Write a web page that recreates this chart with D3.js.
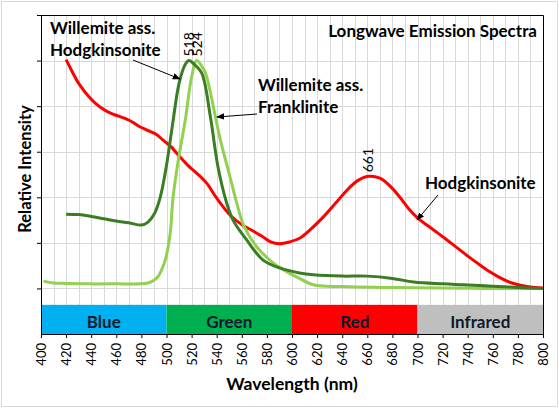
<!DOCTYPE html>
<html>
<head>
<meta charset="utf-8">
<script src="https://cdn.jsdelivr.net/npm/d3@7"></script>
<style>
  body { margin: 0; background: #fff; }
  svg { display: block; font-family: Lato, "Open Sans", sans-serif; }
</style>
</head>
<body>
<script>
// spectra (wavelength in nm, intensity in arbitrary units)
var willHodgNm  = [420, 430, 440, 450, 460, 470, 480, 485, 490, 495, 500, 505, 510, 515, 518, 522, 528, 535, 541, 548, 553, 564, 577, 590, 606, 617, 640, 660, 680, 697, 720, 736, 760, 780, 800];
var willHodgVal = [2.63, 2.62, 2.58, 2.53, 2.48, 2.44, 2.39, 2.45, 2.62, 3.0, 3.7, 4.63, 5.5, 5.92, 6.0, 5.92, 5.73, 4.76, 3.67, 2.87, 2.5, 2.06, 1.62, 1.45, 1.34, 1.3, 1.27, 1.27, 1.22, 1.14, 1.1, 1.08, 1.05, 1.02, 1.0];

var willFrankNm  = [402, 410, 420, 440, 460, 480, 485, 490, 493, 496, 499, 503, 505, 509, 515, 520, 524, 528, 531, 535, 539, 543, 548, 552, 556, 562, 572, 585, 595, 604, 617, 640, 680, 720, 760, 800];
var willFrankVal = [1.16, 1.12, 1.11, 1.1, 1.1, 1.1, 1.12, 1.18, 1.25, 1.4, 1.62, 2.22, 2.94, 3.75, 4.7, 5.64, 6.0, 5.88, 5.73, 5.3, 4.76, 4.25, 3.72, 3.3, 2.87, 2.35, 1.91, 1.56, 1.38, 1.25, 1.08, 1.04, 1.02, 1.01, 1.0, 1.0];

var hodgNm  = [420, 425, 430, 440, 447, 455, 462, 471, 478, 484, 492, 497, 504, 508, 513, 517, 524, 532, 540, 551, 560, 569, 577, 583, 590, 598, 606, 615, 625, 635, 644, 652, 661, 670, 678, 686, 693, 700, 708, 716, 725, 734, 742, 750, 758, 766, 774, 782, 790, 800];
var hodgVal = [6.02, 5.75, 5.5, 5.15, 4.98, 4.85, 4.78, 4.68, 4.56, 4.48, 4.38, 4.26, 4.1, 3.97, 3.82, 3.7, 3.53, 3.31, 2.98, 2.6, 2.4, 2.26, 2.13, 2.02, 1.98, 2.02, 2.1, 2.3, 2.57, 2.88, 3.16, 3.36, 3.46, 3.42, 3.25, 3.0, 2.75, 2.55, 2.38, 2.22, 2.03, 1.84, 1.67, 1.51, 1.36, 1.23, 1.13, 1.07, 1.03, 1.01];

// colour bands along the bottom of the plot
var bandNames = ["Blue", "Green", "Red", "Infrared"];
var bandFrom  = [400, 500, 600, 700];
var bandTo    = [500, 600, 700, 800];
var bandColors = ["#00B0F0", "#00B050", "#FF0000", "#BFBFBF"];
var bandTop = 0.64;

var xTicks = d3.range(400, 801, 20);
var peakNm  = [518, 524, 661];
var peakVal = [6.0, 6.0, 3.46];

var width = 559;
var height = 408;

var x = d3.scaleLinear()
          .domain([400, 800])
          .range([41, 543]);

var y = d3.scaleLinear()
          .domain([0, 7])
          .range([334, 15]);

var svg = d3.select("body")
            .append("svg")
            .attr("width", width)
            .attr("height", height);

// chart area border
svg.append("rect")
   .attr("x", 1.5).attr("y", 1.5)
   .attr("width", width - 3).attr("height", height - 3)
   .attr("fill", "#fff")
   .attr("stroke", "#d9d9d9");

var defs = svg.append("defs");
defs.append("marker")
    .attr("id", "arrow")
    .attr("viewBox", "0 0 10 10")
    .attr("refX", 9).attr("refY", 5)
    .attr("markerWidth", 8).attr("markerHeight", 8)
    .attr("orient", "auto")
    .append("path")
    .attr("d", "M0,1 L10,5 L0,9 Z")
    .attr("fill", "#000");

// gridlines
var grid = svg.append("g").attr("stroke", "#d9d9d9").attr("stroke-width", 1);
grid.selectAll("line.v")
    .data(d3.range(410, 800, 10))
    .enter().append("line")
    .attr("x1", function(d) { return Math.round(x(d)) + 0.5; })
    .attr("x2", function(d) { return Math.round(x(d)) + 0.5; })
    .attr("y1", y(7)).attr("y2", y(bandTop));
grid.selectAll("line.h")
    .data(d3.range(1, 7))
    .enter().append("line")
    .attr("x1", x(400)).attr("x2", x(800))
    .attr("y1", function(d) { return Math.round(y(d)) + 0.5; })
    .attr("y2", function(d) { return Math.round(y(d)) + 0.5; });

// plot frame (top + right)
svg.append("path")
   .attr("d", "M" + x(400) + "," + (y(7) + 0.5) + "H" + (x(800) + 0.5) + "V" + y(0))
   .attr("fill", "none")
   .attr("stroke", "#000");

// bands
var bands = svg.append("g");
bands.selectAll("rect")
     .data(bandNames)
     .enter().append("rect")
     .attr("x", function(d, i) { return x(bandFrom[i]); })
     .attr("width", function(d, i) { return x(bandTo[i]) - x(bandFrom[i]); })
     .attr("y", y(bandTop))
     .attr("height", y(0) - y(bandTop))
     .attr("fill", function(d, i) { return bandColors[i]; });
bands.selectAll("text")
     .data(bandNames)
     .enter().append("text")
     .attr("x", function(d, i) { return x((bandFrom[i] + bandTo[i]) / 2); })
     .attr("y", 328)
     .attr("text-anchor", "middle")
     .attr("font-size", 17)
     .attr("font-weight", "bold")
     .attr("fill", "#0d1a2b")
     .text(function(d) { return d; });

// spectra
var line = d3.line()
             .x(function(d) { return x(d[0]); })
             .y(function(d) { return y(d[1]); })
             .curve(d3.curveCatmullRom);

var series = [
  { nm: hodgNm, val: hodgVal, color: "#FF0000" },
  { nm: willFrankNm, val: willFrankVal, color: "#92D050" },
  { nm: willHodgNm, val: willHodgVal, color: "#3A7D22" }
];
svg.selectAll("path.s")
   .data(series)
   .enter().append("path")
   .attr("d", function(s) { return line(d3.zip(s.nm, s.val)); })
   .attr("fill", "none")
   .attr("stroke", function(s) { return s.color; })
   .attr("stroke-width", 3)
   .attr("stroke-linejoin", "round");

// axes
var xAxis = d3.axisBottom(x).tickValues(xTicks).tickSize(4).tickSizeOuter(0);
var gx = svg.append("g")
            .attr("transform", "translate(0," + y(0) + ")")
            .call(xAxis);
gx.select(".domain").attr("stroke", "#000");
gx.selectAll(".tick line").attr("stroke", "#000");
gx.selectAll(".tick text")
  .attr("transform", "rotate(-90)")
  .attr("x", -9).attr("y", 0).attr("dy", "0.35em")
  .attr("text-anchor", "end")
  .attr("font-family", "Lato, sans-serif")
  .attr("font-size", 13)
  .attr("fill", "#000");

var yAxis = d3.axisLeft(y).tickValues(d3.range(1, 8)).tickSize(4).tickSizeOuter(0).tickFormat("");
var gy = svg.append("g")
            .attr("transform", "translate(" + x(400) + ",0)")
            .call(yAxis);
gy.select(".domain").attr("stroke", "#000");
gy.selectAll(".tick line").attr("stroke", "#000");

// peak labels
svg.selectAll("text.peak")
   .data(peakNm)
   .enter().append("text")
   .attr("transform", function(d, i) { return "translate(" + x(d) + "," + (y(peakVal[i]) - 4) + ") rotate(-90)"; })
   .attr("dy", "0.35em")
   .attr("font-size", 14)
   .attr("fill", "#000")
   .text(function(d) { return d; });

// annotations
function label(lines, xPos, yPos) {
  var t = svg.append("text")
             .attr("x", xPos).attr("y", yPos)
             .attr("font-size", 17)
             .attr("font-weight", "bold")
             .attr("fill", "#000");
  lines.forEach(function(s, i) {
    t.append("tspan").attr("x", xPos).attr("dy", i === 0 ? 0 : 22).text(s);
  });
}
label(["Willemite ass.", "Hodgkinsonite"], 50, 34);
label(["Willemite ass.", "Franklinite"], 258, 91);
label(["Hodgkinsonite"], 425, 189);

svg.append("text")
   .attr("x", 537).attr("y", 37)
   .attr("text-anchor", "end")
   .attr("font-size", 17)
   .attr("font-weight", "bold")
   .text("Longwave Emission Spectra");

var arrows = [
  [133, 60, 180, 79],
  [257, 114, 217, 117],
  [438, 195, 417, 220]
];
svg.selectAll("line.arrow")
   .data(arrows)
   .enter().append("line")
   .attr("x1", function(d) { return d[0]; })
   .attr("y1", function(d) { return d[1]; })
   .attr("x2", function(d) { return d[2]; })
   .attr("y2", function(d) { return d[3]; })
   .attr("stroke", "#000")
   .attr("stroke-width", 1)
   .attr("marker-end", "url(#arrow)");

// axis titles
svg.append("text")
   .attr("transform", "translate(31,169) rotate(-90)")
   .attr("text-anchor", "middle")
   .attr("font-size", 16.5)
   .attr("font-weight", "bold")
   .text("Relative Intensity");

svg.append("text")
   .attr("x", 292).attr("y", 390)
   .attr("text-anchor", "middle")
   .attr("font-size", 17.5)
   .attr("font-weight", "bold")
   .text("Wavelength (nm)");
</script>
</body>
</html>
